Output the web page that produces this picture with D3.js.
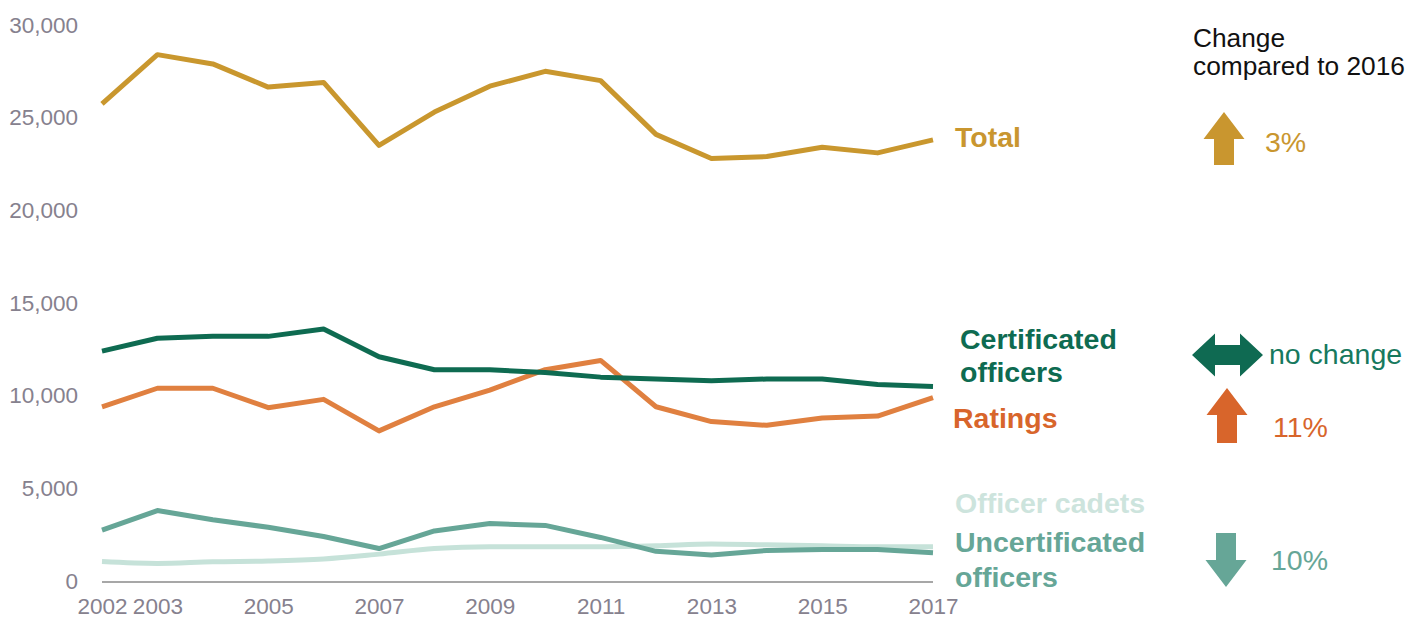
<!DOCTYPE html>
<html>
<head>
<meta charset="utf-8">
<script src="https://cdn.jsdelivr.net/npm/d3@7"></script>
<style>
  body { margin: 0; background: #fff; }
  svg { display: block; font-family: "Liberation Sans", Arial, sans-serif; }
  .axis text { fill: #86818e; font-size: 22.5px; }
  .axis .domain { stroke: #8a8a8a; stroke-width: 1.5; }
</style>
</head>
<body>
<div class="canvas"></div>
<script>
// data
const years = d3.range(2002, 2018)
const total = [25750, 28400, 27900, 26650, 26900, 23500, 25300, 26700, 27500, 27000, 24100, 22800, 22900, 23400, 23100, 23800]
const certificated = [12400, 13100, 13200, 13200, 13600, 12100, 11400, 11400, 11250, 11000, 10900, 10800, 10900, 10900, 10600, 10500]
const ratings = [9400, 10400, 10400, 9350, 9800, 8100, 9400, 10300, 11400, 11900, 9400, 8600, 8400, 8800, 8900, 9900]
const uncertificated = [2750, 3800, 3300, 2900, 2400, 1750, 2700, 3100, 3000, 2350, 1600, 1400, 1650, 1700, 1700, 1530]
const cadets = [1050, 950, 1040, 1080, 1190, 1450, 1750, 1850, 1850, 1850, 1900, 2000, 1950, 1900, 1850, 1850]
const xTickYears = [2002, 2003, 2005, 2007, 2009, 2011, 2013, 2015, 2017]
const yTicks = [0, 5000, 10000, 15000, 20000, 25000, 30000]

const series = [
  {name: 'cadets', values: cadets, color: '#c6e2d9', curve: d3.curveMonotoneX},
  {name: 'uncertificated', values: uncertificated, color: '#66a697', curve: d3.curveLinear},
  {name: 'ratings', values: ratings, color: '#e08040', curve: d3.curveLinear},
  {name: 'certificated', values: certificated, color: '#0e6b51', curve: d3.curveLinear},
  {name: 'total', values: total, color: '#c9972e', curve: d3.curveLinear}
]

const width = 1421, height = 618
const svg = d3.select('.canvas').append('svg')
  .attr('width', width)
  .attr('height', height)

const x = d3.scaleLinear().domain([2002, 2017]).range([102, 933])
const y = d3.scaleLinear().domain([0, 30000]).range([581, 25])

// axes
svg.append('g')
  .attr('class', 'axis')
  .attr('transform', 'translate(78, 0)')
  .call(d3.axisLeft(y).tickValues(yTicks).tickSize(0).tickPadding(0).tickFormat(d3.format(',')))
  .call(g => g.select('.domain').remove())

svg.append('g')
  .attr('class', 'axis')
  .attr('transform', 'translate(0, 582)')
  .call(d3.axisBottom(x).tickValues(xTickYears).tickSize(0).tickPadding(16).tickFormat(d3.format('d')))
  .call(g => g.select('.domain').attr('d', `M${x(2002)},0H${x(2017)}`))

// lines
series.forEach(s => {
  const line = d3.line()
    .x((d, i) => x(years[i]))
    .y(d => y(d))
    .curve(s.curve)
  svg.append('path')
    .datum(s.values)
    .attr('fill', 'none')
    .attr('stroke', s.color)
    .attr('stroke-width', 5)
    .attr('stroke-linejoin', 'round')
    .attr('d', line)
})

// series labels
const labels = [
  {lines: ['Total'], x: 955, y: 147, color: '#c9962f'},
  {lines: ['Certificated', 'officers'], x: 960, y: 349, gap: 33, color: '#0e6b51'},
  {lines: ['Ratings'], x: 953, y: 428, color: '#d8652b'},
  {lines: ['Officer cadets'], x: 955, y: 513, color: '#cde4dd'},
  {lines: ['Uncertificated', 'officers'], x: 955, y: 552, gap: 35, color: '#66a697'}
]
labels.forEach(l => {
  const t = svg.append('text')
    .attr('x', l.x)
    .attr('y', l.y)
    .attr('fill', l.color)
    .attr('font-size', 28.5)
    .attr('font-weight', 'bold')
  l.lines.forEach((str, i) => {
    t.append('tspan').attr('x', l.x).attr('y', l.y + i * (l.gap || 0)).text(str)
  })
})

// change column
svg.append('text')
  .attr('x', 1193).attr('y', 47)
  .attr('font-size', 26.3).attr('fill', '#111')
  .text('Change')
svg.append('text')
  .attr('x', 1193).attr('y', 75)
  .attr('font-size', 26.3).attr('fill', '#111')
  .text('compared to 2016')

// arrow: cx, tip y, tail y (up if tip < tail)
function arrow(cx, tipY, tailY, color) {
  const dir = tipY < tailY ? 1 : -1
  const headH = 27 * dir, headW = 20.5, shaftW = 10
  const baseY = tipY + headH
  svg.append('path')
    .attr('fill', color)
    .attr('d', `M${cx},${tipY}L${cx + headW},${baseY}L${cx + shaftW},${baseY}` +
      `L${cx + shaftW},${tailY}L${cx - shaftW},${tailY}L${cx - shaftW},${baseY}` +
      `L${cx - headW},${baseY}Z`)
}

function doubleArrow(x0, x1, cy, color) {
  const headW = 23, headH = 21.5, shaftH = 10
  svg.append('path')
    .attr('fill', color)
    .attr('d', `M${x0},${cy}L${x0 + headW},${cy - headH}L${x0 + headW},${cy - shaftH}` +
      `L${x1 - headW},${cy - shaftH}L${x1 - headW},${cy - headH}L${x1},${cy}` +
      `L${x1 - headW},${cy + headH}L${x1 - headW},${cy + shaftH}L${x0 + headW},${cy + shaftH}` +
      `L${x0 + headW},${cy + headH}Z`)
}

arrow(1224, 112, 165, '#c9962f')
doubleArrow(1192, 1263, 355, '#0f6a52')
arrow(1227, 388, 443, '#d8652b')
arrow(1226, 587, 533, '#66a697')

const changes = [
  {text: '3%', x: 1265, y: 152, color: '#c9962f'},
  {text: 'no change', x: 1269, y: 364, color: '#17795e'},
  {text: '11%', x: 1273, y: 437, color: '#d8652b'},
  {text: '10%', x: 1271, y: 570, color: '#66a697'}
]
changes.forEach(c => {
  svg.append('text')
    .attr('x', c.x).attr('y', c.y)
    .attr('font-size', 28.5)
    .attr('fill', c.color)
    .text(c.text)
})
</script>
</body>
</html>
